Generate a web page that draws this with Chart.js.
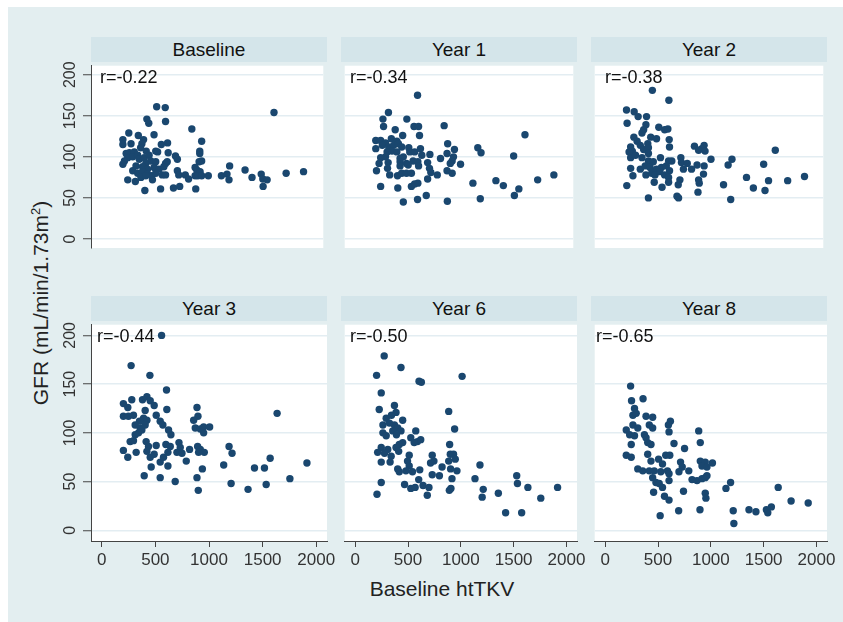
<!DOCTYPE html>
<html><head><meta charset="utf-8">
<script src="https://cdn.jsdelivr.net/npm/chart.js@4.4.1/dist/chart.umd.min.js"></script>
<style>
html,body{margin:0;padding:0;background:#fff;}
#wrap{position:relative;width:843px;height:622px;overflow:hidden;background:#fff;font-family:"Liberation Sans",Arial,sans-serif;}
#bg{position:absolute;left:8px;top:7px;width:835px;height:615px;background:#e3eef0;}
.hdr{position:absolute;height:25px;background:#d4e5ea;color:#111;font-size:19px;line-height:25px;text-align:center;}
canvas{position:absolute;}
.rlab{position:absolute;font-size:18px;color:#111;line-height:20px;white-space:nowrap;}
#ytitle{position:absolute;left:40px;top:303px;transform:translate(-50%,-50%) rotate(-90deg);font-size:21px;color:#222;white-space:nowrap;}
#ytitle sup{font-size:13px;}
#xtitle{position:absolute;left:442px;top:589px;transform:translate(-50%,-50%);font-size:21px;color:#222;white-space:nowrap;}
</style>
</head><body>
<div id="wrap"><div id="bg"></div></div>
<script>
// ---- data ----
const PANELS = ['Baseline', 'Year 1', 'Year 2', 'Year 3', 'Year 6', 'Year 8'];
const R_LABELS = ['r=-0.22', 'r=-0.34', 'r=-0.38', 'r=-0.44', 'r=-0.50', 'r=-0.65'];
const X_TICKS = [0, 500, 1000, 1500, 2000];
const Y_TICKS = [0, 50, 100, 150, 200];
const X_TITLE = 'Baseline htTKV';

const baseline = [[522,161],[603,160],[1633,154],[429,146],[447,141],[606,143],[855,134],[258,129],[348,126],[497,127],[202,121],[202,115],[279,116],[398,121],[382,116],[566,115],[625,117],[948,119],[370,111],[423,107],[513,107],[531,106],[631,105],[700,101],[718,97],[930,107],[930,104],[948,95],[924,94],[233,104],[264,105],[310,106],[248,99],[217,95],[202,91],[295,100],[342,102],[357,97],[404,99],[450,102],[466,95],[419,92],[513,94],[606,92],[622,94],[326,89],[388,88],[435,85],[497,87],[544,85],[590,88],[295,83],[342,80],[388,82],[435,79],[475,77],[513,80],[575,78],[606,78],[373,75],[419,77],[482,72],[248,72],[320,70],[718,83],[731,78],[793,78],[824,73],[886,87],[902,84],[933,82],[886,77],[911,77],[948,77],[1011,77],[1135,77],[1188,79],[1213,89],[1207,72],[1359,84],[1425,75],[1512,79],[1527,73],[1568,72],[1530,64],[1748,80],[1913,82],[410,59],[559,61],[681,62],[740,64],[892,61]];
const year1 = [[601,175],[321,154],[268,146],[498,146],[274,137],[567,137],[611,137],[857,138],[386,133],[620,126],[1635,127],[458,126],[199,120],[246,120],[293,117],[349,122],[402,119],[262,114],[324,112],[371,114],[417,116],[449,112],[199,110],[517,111],[891,116],[956,109],[1181,111],[1212,105],[1526,101],[308,106],[355,107],[402,106],[526,106],[573,106],[629,110],[642,102],[720,103],[885,104],[947,100],[246,99],[293,100],[433,98],[464,100],[231,92],[318,93],[433,94],[495,92],[558,95],[604,94],[698,93],[822,98],[934,95],[916,92],[1015,91],[206,83],[312,86],[433,89],[511,90],[611,89],[716,86],[885,83],[934,80],[333,78],[408,77],[449,80],[495,80],[542,80],[729,81],[791,78],[246,64],[411,62],[542,64],[604,68],[698,73],[1134,68],[1355,71],[1427,65],[1576,61],[1533,53],[1757,72],[1913,78],[685,53],[601,48],[464,45],[888,46],[1205,49],[573,67]];
const year2 = [[455,181],[614,169],[206,157],[280,155],[318,149],[399,149],[212,141],[393,139],[517,136],[573,133],[604,134],[371,133],[355,129],[439,124],[495,122],[277,124],[308,119],[617,121],[339,114],[411,116],[620,112],[246,112],[262,107],[231,106],[371,109],[417,111],[860,113],[953,114],[931,110],[900,108],[962,107],[246,99],[293,102],[355,99],[417,104],[417,95],[464,94],[533,99],[611,95],[642,95],[729,99],[735,93],[791,92],[885,90],[953,89],[1019,97],[1221,97],[1184,90],[1526,91],[1638,108],[246,86],[339,85],[386,89],[433,87],[495,85],[542,87],[589,89],[620,83],[754,85],[832,85],[947,79],[268,77],[393,78],[449,80],[480,78],[526,82],[573,78],[611,75],[720,72],[900,72],[906,68],[611,69],[473,69],[704,66],[548,63],[209,65],[1140,66],[1361,75],[1427,62],[1573,71],[1539,59],[1757,71],[1919,76],[417,50],[692,52],[707,50],[894,57],[1209,48]];
const year3 = [[558,200],[274,169],[449,159],[604,144],[202,130],[243,126],[280,134],[380,134],[421,137],[452,133],[489,128],[202,117],[249,117],[296,118],[405,123],[352,112],[390,115],[421,113],[508,118],[545,112],[607,124],[312,108],[358,105],[343,100],[312,98],[374,103],[405,108],[570,108],[623,103],[645,98],[888,126],[897,117],[857,113],[872,105],[919,104],[950,100],[950,106],[1006,106],[202,82],[243,75],[265,91],[296,92],[321,80],[414,91],[436,86],[421,81],[452,75],[508,87],[489,78],[545,70],[576,75],[598,88],[639,86],[617,80],[720,90],[732,85],[701,80],[748,79],[788,71],[819,83],[894,86],[919,83],[956,80],[903,80],[461,65],[617,66],[938,63],[396,56],[545,54],[685,50],[888,54],[900,41],[1187,86],[1215,79],[1137,67],[1206,48],[1364,42],[1424,64],[1517,64],[1570,74],[1533,47],[1635,120],[1754,53],[1913,69]];
const year6 = [[274,179],[433,167],[202,159],[604,153],[626,152],[1012,158],[246,141],[227,124],[885,122],[371,128],[386,121],[293,115],[343,118],[449,113],[262,108],[324,110],[371,108],[402,105],[433,102],[355,102],[262,100],[293,97],[390,98],[573,102],[941,104],[526,95],[589,91],[620,93],[558,90],[894,88],[246,85],[308,83],[417,88],[449,90],[386,85],[212,80],[277,79],[340,76],[411,81],[511,77],[729,77],[745,71],[713,69],[900,78],[931,78],[947,73],[885,71],[822,65],[246,70],[330,70],[495,71],[511,66],[542,60],[402,63],[417,60],[480,61],[611,62],[729,57],[797,56],[903,63],[916,53],[963,61],[601,52],[467,47],[526,43],[567,44],[642,46],[698,44],[682,36],[246,49],[206,37],[891,41],[906,43],[1181,67],[1134,53],[1212,42],[1202,34],[1355,38],[1529,56],[1536,48],[1635,44],[1757,33],[1916,44],[1424,18],[1576,18]];
const year8 = [[240,148],[249,133],[358,135],[277,125],[262,118],[293,120],[386,117],[449,116],[617,112],[199,103],[231,98],[262,108],[308,105],[371,98],[417,108],[449,105],[598,108],[604,101],[277,97],[386,95],[402,90],[433,88],[246,88],[651,89],[885,102],[900,90],[751,84],[199,77],[246,75],[402,78],[433,71],[573,77],[611,77],[505,73],[542,68],[713,70],[729,65],[698,60],[791,61],[900,71],[947,70],[1015,69],[916,66],[963,65],[308,63],[355,61],[417,61],[464,61],[526,60],[589,61],[604,58],[604,51],[822,52],[869,51],[916,53],[947,54],[963,56],[449,54],[480,49],[511,48],[542,44],[458,39],[561,35],[604,31],[741,40],[947,38],[953,33],[695,20],[897,21],[520,15],[1143,43],[1187,49],[1638,44],[1760,30],[1922,28],[1212,20],[1218,7],[1361,21],[1427,19],[1526,21],[1539,18],[1573,24]];
const SERIES = [baseline, year1, year2, year3, year6, year8];

// ---- layout ----
const FONT = '"Liberation Sans", Arial, sans-serif';
const COL_X = [91, 341, 591];
const ROW_Y = [62, 321];
const PLOT_W = 236, PLOT_H = 220;
const HDR_H = 25;
const Y_AXIS_W = 51, X_AXIS_H = 34, RIGHT_PAD = 14;
const R_DX = [9, 9, 14, 6, 9, 5];
const R_CY = [76.5, 335.5];

const wrap = document.getElementById('wrap');

const yt = document.createElement('div');
yt.id = 'ytitle';
yt.innerHTML = 'GFR (mL/min/1.73m<sup>2</sup>)';
wrap.appendChild(yt);
const xt = document.createElement('div');
xt.id = 'xtitle';
xt.textContent = X_TITLE;
wrap.appendChild(xt);

const plotBg = {
  id: 'plotBg',
  beforeDraw(chart) {
    const a = chart.chartArea, c = chart.ctx;
    c.save(); c.fillStyle = '#ffffff';
    c.fillRect(a.left, a.top, a.right - a.left, a.bottom - a.top);
    c.restore();
  }
};
const yLabels = {
  id: 'yLabels',
  afterDraw(chart) {
    if (!chart.$leftAxis) return;
    const c = chart.ctx, ys = chart.scales.y;
    c.save();
    c.fillStyle = '#333';
    c.font = '16px ' + FONT;
    c.textAlign = 'center';
    c.textBaseline = 'middle';
    Y_TICKS.forEach(v => {
      const py = ys.getPixelForValue(v);
      c.save();
      c.translate(30.5, py);
      c.rotate(-Math.PI / 2);
      c.fillText(String(v), 0, 0);
      c.restore();
    });
    c.restore();
  }
};

SERIES.forEach((pts, i) => {
  const col = i % 3, row = Math.floor(i / 3);
  const leftAxis = col === 0, bottomAxis = row === 1;
  const axW = leftAxis ? Y_AXIS_W : 0, axH = bottomAxis ? X_AXIS_H : 0;
  const padR = bottomAxis ? RIGHT_PAD : 0;

  const hdr = document.createElement('div');
  hdr.className = 'hdr';
  hdr.style.left = COL_X[col] + 'px';
  hdr.style.top = (ROW_Y[row] - HDR_H) + 'px';
  hdr.style.width = PLOT_W + 'px';
  hdr.textContent = PANELS[i];
  wrap.appendChild(hdr);

  const cv = document.createElement('canvas');
  cv.width = PLOT_W + axW + padR;
  cv.height = PLOT_H + axH;
  cv.style.left = (COL_X[col] - axW) + 'px';
  cv.style.top = ROW_Y[row] + 'px';
  wrap.appendChild(cv);

  const ch = new Chart(cv, {
    type: 'scatter',
    data: {
      datasets: [{
        data: pts.map(p => ({ x: p[0], y: p[1] })),
        backgroundColor: '#1a476f',
        borderWidth: 0,
        pointRadius: 3.7,
        pointHoverRadius: 3.7
      }]
    },
    options: {
      responsive: false,
      animation: false,
      events: [],
      layout: { padding: { left: 0, top: 0, bottom: 0, right: padR } },
      plugins: { legend: { display: false }, tooltip: { enabled: false } },
      scales: {
        x: {
          type: 'linear', min: -100, max: 2100,
          display: bottomAxis,
          afterBuildTicks: s => { s.ticks = X_TICKS.map(v => ({ value: v })); },
          afterFit: s => { s.height = X_AXIS_H; s.paddingLeft = 0; s.paddingRight = 0; },
          grid: { drawOnChartArea: false, drawTicks: true, tickLength: 6, tickColor: '#444', tickWidth: 1 },
          border: { display: true, color: '#444', width: 1 },
          ticks: { font: { size: 17, family: FONT }, color: '#333', padding: 3, maxRotation: 0, minRotation: 0, autoSkip: false, callback: v => String(v) }
        },
        y: {
          type: 'linear', min: -11, max: 211,
          afterBuildTicks: s => { s.ticks = Y_TICKS.map(v => ({ value: v })); },
          afterFit: s => { s.width = axW; s.paddingTop = 0; s.paddingBottom = 0; },
          grid: { color: '#e3edf2', lineWidth: 1.5, drawTicks: leftAxis, tickLength: 8, tickColor: '#444', tickWidth: 1 },
          border: { display: leftAxis, color: '#444', width: 1 },
          ticks: { display: false }
        }
      }
    },
    plugins: [plotBg, yLabels]
  });
  ch.$leftAxis = leftAxis;
  ch.draw();

  const r = document.createElement('div');
  r.className = 'rlab';
  r.style.left = (COL_X[col] + R_DX[i]) + 'px';
  r.style.top = (R_CY[row] - 10) + 'px';
  r.textContent = R_LABELS[i];
  wrap.appendChild(r);
});
</script>
</body></html>
